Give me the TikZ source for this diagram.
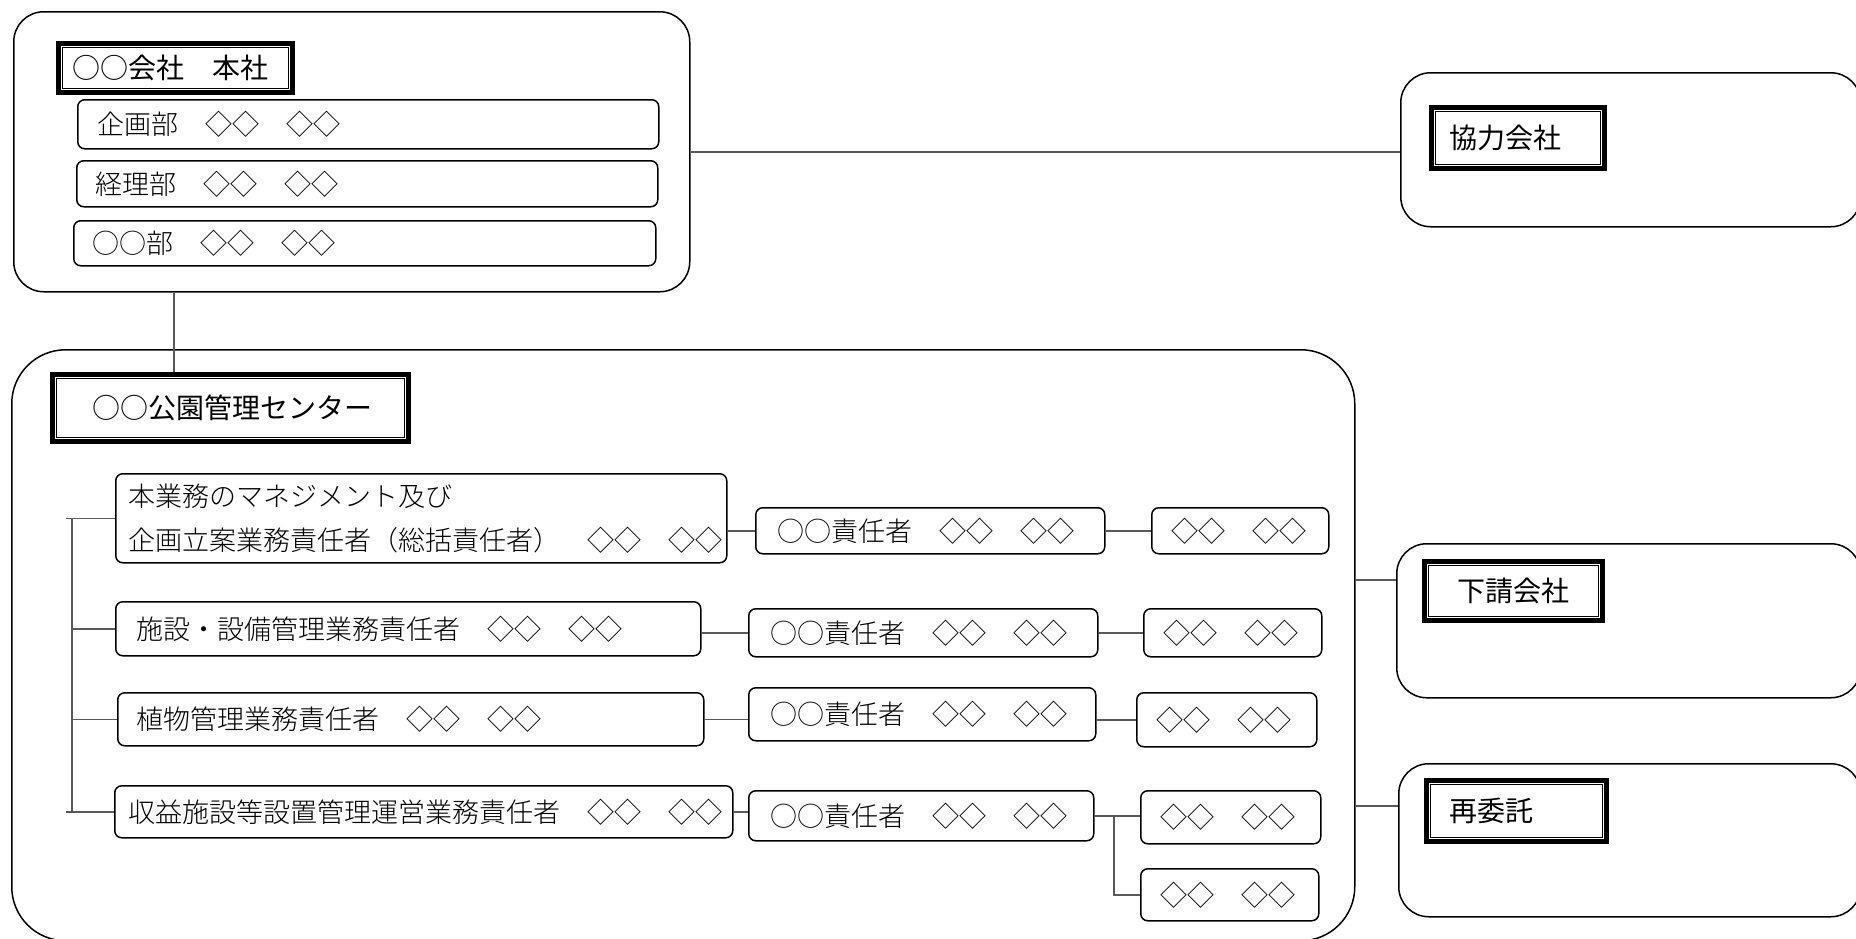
\documentclass[tikz,border=0pt]{standalone}
\usepackage{fontspec}
\setmainfont{Noto Sans CJK JP}
\newfontfamily\bodyfont{Noto Sans CJK JP Light}
\newcommand\rbx[8]{%
  \pgfmathsetmacro\bw{(#5-#3)*0.5}%
  \pgfmathsetmacro\bh{(#6-#4)*0.5}%
  \pgfmathsetmacro\tw{\bw-2*#7}%
  \node[#1, anchor=north west, inner xsep=#7pt, minimum width=\bw pt, minimum height=\bh pt, text width=\tw pt] (#2) at (#3,#4) {#8};}
\newcommand\dframe[1]{\draw[line width=0.8pt] ([xshift=3.2pt,yshift=-3.2pt]#1.north west) rectangle ([xshift=-3.2pt,yshift=3.2pt]#1.south east);}
\begin{document}
\begin{tikzpicture}[x=0.5pt,y=-0.5pt,
  rb/.style={draw=black, line width=0.75pt, rounded corners=3.5pt, inner ysep=0pt, font=\bodyfont\fontsize{13.5pt}{22pt}\selectfont, align=left},
  dept/.style={rb, text depth=1.5pt},
  cont/.style={draw=black, line width=0.75pt, rounded corners=15pt, inner ysep=0pt},
  bigcont/.style={draw=black, line width=0.75pt, rounded corners=27pt, inner ysep=0pt},
  ttl/.style={draw=black, line width=2.4pt, inner ysep=0pt, font=\fontsize{14pt}{17pt}\selectfont, align=left},
  ttlc/.style={ttl, align=center},
  conn/.style={draw=black!65, line width=0.75pt}]
\useasboundingbox (0,0) rectangle (1856,938);
% containers
\rbx{cont}{hq}{13}{11}{689}{291}{0}{}
\rbx{cont}{kyo}{1400}{72}{1860}{226}{0}{}
\rbx{bigcont}{center}{11}{349}{1354}{940}{0}{}
\rbx{cont}{shita}{1396}{543}{1860}{697}{0}{}
\rbx{cont}{sai}{1398}{763}{1860}{916}{0}{}
% titles
\rbx{ttl}{hqt}{56}{41}{290}{90}{7}{○○会社　本社}
\dframe{hqt}
\rbx{ttl}{kyot}{1429}{105}{1602}{166}{9}{協力会社}
\dframe{kyot}
\rbx{ttl}{centert}{50}{372}{406}{439}{20}{○○公園管理センター}
\dframe{centert}
\rbx{ttlc}{shitat}{1422}{559}{1600}{618}{5}{下請会社}
\dframe{shitat}
\rbx{ttl}{sait}{1424}{778}{1604}{839}{11.5}{再委託}
\dframe{sait}
% departments
\rbx{rb}{d1}{77}{99}{658}{148}{10}{\raisebox{-3pt}{企画部　◇◇　◇◇}}
\rbx{rb}{d2}{76}{160}{657}{206}{9.5}{\raisebox{-3pt}{経理部　◇◇　◇◇}}
\rbx{rb}{d3}{73}{220}{655}{265}{9.5}{\raisebox{-3pt}{○○部　◇◇　◇◇}}
% rows
\rbx{rb}{r1a}{115}{473}{726}{562}{6.5}{本業務のマネジメント及び\\企画立案業務責任者（総括責任者）　◇◇　◇◇}
\rbx{rb}{r1b}{755}{507}{1104}{553}{11}{○○責任者　◇◇　◇◇}
\rbx{rb}{r1c}{1151}{507}{1328}{553}{10}{◇◇　◇◇}
\rbx{rb}{r2a}{115}{601}{700}{655}{10.5}{施設・設備管理業務責任者　◇◇　◇◇}
\rbx{rb}{r2b}{748}{608}{1097}{656}{11}{○○責任者　◇◇　◇◇}
\rbx{rb}{r2c}{1143}{608}{1321}{656}{10}{◇◇　◇◇}
\rbx{rb}{r3a}{117}{692}{703}{745}{9.5}{植物管理業務責任者　◇◇　◇◇}
\rbx{rb}{r3b}{748}{687}{1095}{740}{11}{○○責任者　◇◇　◇◇}
\rbx{rb}{r3c}{1136}{692}{1316}{746}{10}{◇◇　◇◇}
\rbx{rb}{r4a}{114}{785}{732}{837}{7}{収益施設等設置管理運営業務責任者　◇◇　◇◇}
\rbx{rb}{r4b}{748}{790}{1093}{840}{11}{○○責任者　◇◇　◇◇}
\rbx{rb}{r4c}{1140}{790}{1320}{843}{10}{◇◇　◇◇}
\rbx{rb}{r4d}{1140}{868}{1318}{920}{10}{◇◇　◇◇}
% helper coordinates
\coordinate (jx) at (174,0);
\coordinate (tx) at (72,0);
\coordinate (tx0) at (66,0);
\coordinate (s1) at (0,580);
\coordinate (s2) at (0,806);
\coordinate (bx) at (1114,0);
% connectors
\draw[conn] (hq.east) -- (hq.east -| kyo.west);
\draw[conn] (hq.south -| jx) -- (centert.north -| jx);
\draw[conn] (center.east |- s1) -- (shita.west |- s1);
\draw[conn] (center.east |- s2) -- (sai.west |- s2);
\draw[conn] (r1a.west -| tx0) -- (r1a.west);
\draw[conn] (r1a.west -| tx) -- (r4a.west -| tx);
\draw[conn] (r2a.west -| tx) -- (r2a.west);
\draw[conn] (r3a.west -| tx) -- (r3a.west);
\draw[conn] (r4a.west -| tx0) -- (r4a.west);
\draw[conn] (r1b.west -| r1a.east) -- (r1b.west);
\draw[conn] (r1b.east) -- (r1b.east -| r1c.west);
\draw[conn] (r2b.west -| r2a.east) -- (r2b.west);
\draw[conn] (r2b.east) -- (r2b.east -| r2c.west);
\draw[conn] (r3a.east) -- (r3a.east -| r3b.west);
\draw[conn] (r3c.west -| r3b.east) -- (r3c.west);
\draw[conn] (r4a.east) -- (r4a.east -| r4b.west);
\draw[conn] (r4b.east) -- (r4b.east -| r4c.west);
\draw[conn] (r4b.east -| bx) -- (r4d.west -| bx) -- (r4d.west);
\end{tikzpicture}
\end{document}
